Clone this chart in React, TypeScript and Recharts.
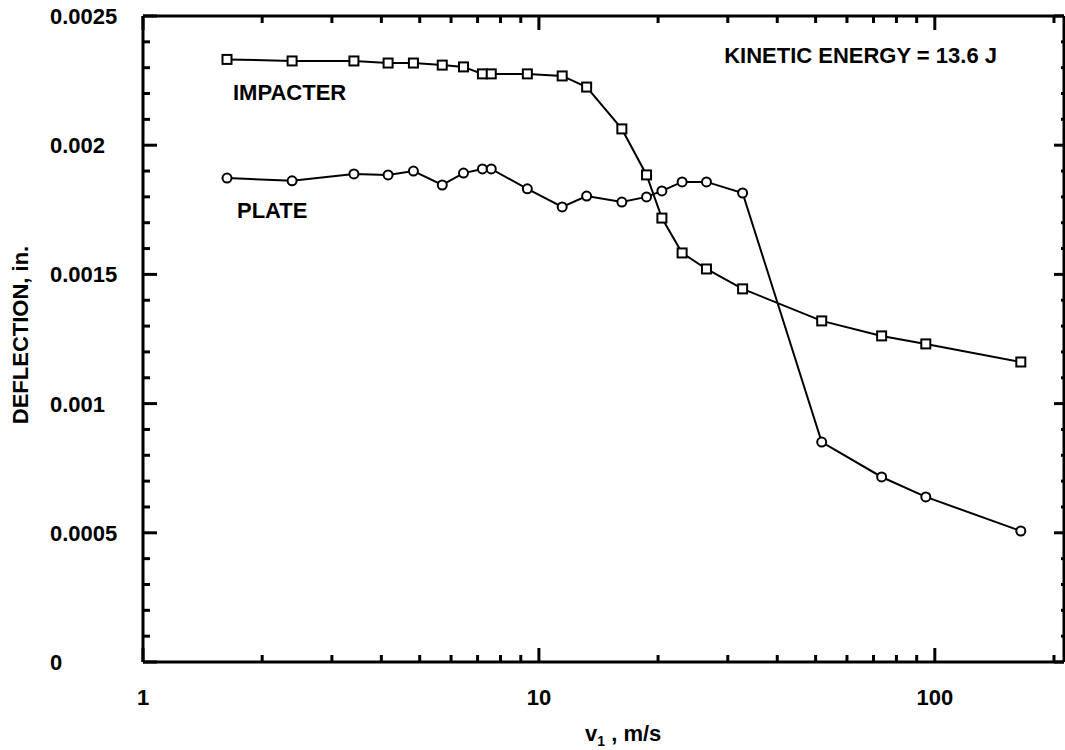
import React from 'react';
import { LineChart, Line, XAxis, YAxis } from 'recharts';

// impact velocity v1 (m/s), shared by both curves
const velocity = [1.63, 2.38, 3.41, 4.16, 4.82, 5.7, 6.45, 7.2, 7.58, 9.35, 11.45, 13.2, 16.2, 18.7, 20.45, 23.0, 26.5, 32.7, 51.8, 73.4, 94.9, 164.9];

// deflection, in.
const impacter = [0.002332, 0.002326, 0.002326, 0.002318, 0.002318, 0.00231, 0.002303, 0.002276, 0.002276, 0.002276, 0.002268, 0.002225, 0.002063, 0.001885, 0.001718, 0.001583, 0.001521, 0.001444, 0.00132, 0.001262, 0.001231, 0.001161];
const plate = [0.001873, 0.001862, 0.001889, 0.001885, 0.0019, 0.001846, 0.001892, 0.001908, 0.001908, 0.001831, 0.001761, 0.001803, 0.00178, 0.0018, 0.001823, 0.001858, 0.001858, 0.001815, 0.000851, 0.000716, 0.000639, 0.000507];

const xTicks = [1, 2, 3, 4, 5, 6, 7, 8, 9, 10, 20, 30, 40, 50, 60, 70, 80, 90, 100, 200];
const xMajor = [1, 10, 100];
const yTicks = [
    0, 0.0001, 0.0002, 0.0003, 0.0004, 0.0005, 0.0006, 0.0007, 0.0008, 0.0009,
    0.001, 0.0011, 0.0012, 0.0013, 0.0014, 0.0015, 0.0016, 0.0017, 0.0018, 0.0019,
    0.002, 0.0021, 0.0022, 0.0023, 0.0024, 0.0025,
];
const yMajor = [0, 0.0005, 0.001, 0.0015, 0.002, 0.0025];

const rows = velocity.map((v, i) => ({ v, impacter: impacter[i], plate: plate[i] }));

const FONT = '"Liberation Sans", Arial, Helvetica, sans-serif';
const FS = 22;

const isMajorY = (v: number) => yMajor.some(m => Math.abs(m - v) < 1e-9);

const BottomTick = (props: any) => {
    const { x, payload } = props;
    const major = xMajor.includes(payload.value);
    return (
        <g>
            <line x1={x} x2={x} y1={662} y2={662 - (major ? 14 : 7)} stroke="#000" strokeWidth={3} />
            {major && (
                <text x={x} y={705} textAnchor="middle" fontFamily={FONT} fontWeight="bold" fontSize={FS} fill="#000">
                    {payload.value}
                </text>
            )}
        </g>
    );
};

const TopTick = (props: any) => {
    const { x, payload } = props;
    const major = xMajor.includes(payload.value);
    return <line x1={x} x2={x} y1={16} y2={16 + (major ? 14 : 7)} stroke="#000" strokeWidth={3} />;
};

const LeftTick = (props: any) => {
    const { y, payload } = props;
    const major = isMajorY(payload.value);
    return (
        <g>
            <line x1={143} x2={143 + (major ? 14 : 7)} y1={y} y2={y} stroke="#000" strokeWidth={3} />
            {major && (
                <text x={50} y={y} dy="0.36em" textAnchor="start" fontFamily={FONT} fontWeight="bold" fontSize={FS} fill="#000">
                    {String(payload.value)}
                </text>
            )}
        </g>
    );
};

const RightTick = (props: any) => {
    const { y, payload } = props;
    const major = isMajorY(payload.value);
    return <line x1={1064} x2={1064 - (major ? 10 : 3)} y1={y} y2={y} stroke="#000" strokeWidth={3} />;
};

const SquareDot = (props: any) => {
    const { cx, cy } = props;
    if (cx == null || cy == null) return null;
    return <rect x={cx - 4.5} y={cy - 4.5} width={9} height={9} fill="#fff" stroke="#000" strokeWidth={2} />;
};

const CircleDot = (props: any) => {
    const { cx, cy } = props;
    if (cx == null || cy == null) return null;
    return <circle cx={cx} cy={cy} r={4.5} fill="#fff" stroke="#000" strokeWidth={2} />;
};

const axisLine = { stroke: '#000', strokeWidth: 3 };

export default function App() {
    const textProps = { fontFamily: FONT, fontWeight: 'bold' as const, fontSize: FS, fill: '#000' };
    return (
        <div style={{ position: 'absolute', left: 0, top: 0, width: 1065, height: 750, background: '#fff', overflow: 'hidden' }}>
            <LineChart width={1065} height={750} data={rows} margin={{ top: 6, right: 0, bottom: 78, left: 133 }}>
                <XAxis
                    xAxisId="bottom"
                    dataKey="v"
                    type="number"
                    scale="log"
                    domain={[1, 212]}
                    allowDataOverflow
                    ticks={xTicks}
                    interval={0}
                    height={10}
                    tickSize={0}
                    tickMargin={0}
                    tickLine={false}
                    axisLine={axisLine}
                    tick={<BottomTick />}
                />
                <XAxis
                    xAxisId="top"
                    orientation="top"
                    dataKey="v"
                    type="number"
                    scale="log"
                    domain={[1, 212]}
                    allowDataOverflow
                    ticks={xTicks}
                    interval={0}
                    height={10}
                    tickSize={0}
                    tickMargin={0}
                    tickLine={false}
                    axisLine={axisLine}
                    tick={<TopTick />}
                />
                <YAxis
                    yAxisId="left"
                    type="number"
                    domain={[0, 0.0025]}
                    allowDataOverflow
                    ticks={yTicks}
                    interval={0}
                    width={10}
                    tickSize={0}
                    tickMargin={0}
                    tickLine={false}
                    axisLine={axisLine}
                    tick={<LeftTick />}
                />
                <YAxis
                    yAxisId="right"
                    orientation="right"
                    type="number"
                    domain={[0, 0.0025]}
                    allowDataOverflow
                    ticks={yTicks}
                    interval={0}
                    width={1}
                    tickSize={0}
                    tickMargin={0}
                    tickLine={false}
                    axisLine={axisLine}
                    tick={<RightTick />}
                />
                <Line
                    xAxisId="bottom"
                    yAxisId="left"
                    type="linear"
                    dataKey="impacter"
                    stroke="#000"
                    strokeWidth={2}
                    dot={<SquareDot />}
                    activeDot={false}
                    isAnimationActive={false}
                />
                <Line
                    xAxisId="bottom"
                    yAxisId="left"
                    type="linear"
                    dataKey="plate"
                    stroke="#000"
                    strokeWidth={2}
                    dot={<CircleDot />}
                    activeDot={false}
                    isAnimationActive={false}
                />
            </LineChart>
            <svg width={1065} height={750} style={{ position: 'absolute', left: 0, top: 0, pointerEvents: 'none' }}>
                <text x={997} y={63} textAnchor="end" {...textProps}>KINETIC ENERGY = 13.6 J</text>
                <text x={233} y={100} {...textProps}>IMPACTER</text>
                <text x={237} y={218} {...textProps}>PLATE</text>
                <text x={28} y={335} textAnchor="middle" transform="rotate(-90 28 335)" {...textProps}>DEFLECTION, in.</text>
                <text x={585} y={741} {...textProps}>
                    v<tspan fontSize={14} dy={5}>1</tspan><tspan dy={-5}> , m/s</tspan>
                </text>
            </svg>
        </div>
    );
}
